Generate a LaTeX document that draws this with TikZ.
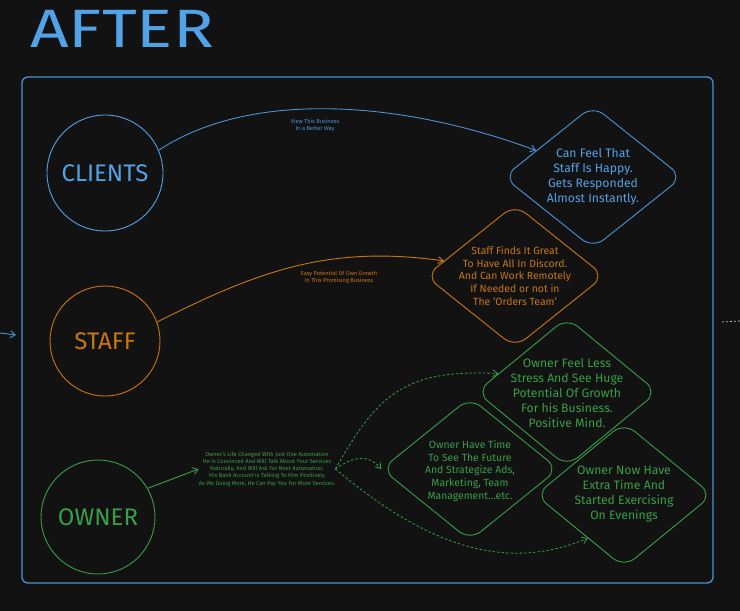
\documentclass[tikz,border=0pt]{standalone}
\usepackage{fontspec}
\setmainfont{Fira Sans}
\usetikzlibrary{shapes.geometric,arrows.meta}
\definecolor{bg}{RGB}{18,18,18}
\definecolor{cblue}{RGB}{74,146,214}
\definecolor{tblue}{RGB}{82,162,232}
\definecolor{corange}{RGB}{200,118,20}
\definecolor{cgreen}{RGB}{56,158,72}
\definecolor{cgray}{RGB}{190,190,190}
\begin{document}
\begin{tikzpicture}[x=1pt,y=-1pt,
  circ/.style={circle,draw=#1,text=#1,line width=0.9pt,inner sep=0pt,font=\fontsize{24}{24}\selectfont},
  diam/.style={diamond,draw=#1,line width=0.9pt,rounded corners=14pt,inner sep=0pt},
  bigtxt/.style={text=#1,align=center,inner sep=0pt,font=\fontsize{12.2}{15}\selectfont},
  midtxt/.style={text=#1,align=center,inner sep=0pt,font=\fontsize{10.4}{12.6}\selectfont},
  tinytxt/.style={text=#1,align=center,inner sep=0pt,font=\fontsize{5.7}{7.2}\selectfont},
  conn/.style={draw=#1,line width=0.9pt,-{Straight Barb[length=5pt,width=7pt]}},
  dconn/.style={draw=#1,line width=0.8pt,dash pattern=on 2.5pt off 2pt,-{Straight Barb[length=5pt,width=7pt]}}]
\useasboundingbox (0,0) rectangle (740,611);
\fill[bg] (0,0) rectangle (740,611);
% title
\node[anchor=base west,text=tblue,inner sep=0pt,font=\fontsize{54}{54}\selectfont] (title) at (30,47) {\scalebox{1.25}[1]{AFTER}};
% frame
\node[draw=cblue,line width=1.3pt,rounded corners=6pt,minimum width=691pt,minimum height=506pt,inner sep=0pt] (frame) at (367.5,330) {};
% edge connectors
\coordinate (la) at (0,333);
\coordinate (lb) at (16,335);
\draw[conn=cblue] (la) -- (lb);
\coordinate (ra) at (722,322);
\coordinate (rb) at (740,321);
\draw[draw=cgray,line width=0.8pt,dash pattern=on 2pt off 2pt] (ra) -- (rb);
% circles
\node[circ=tblue,minimum size=116pt] (clients) at (105,173) {CLIENTS};
\node[circ=corange,minimum size=110pt] (staff) at (105,341) {STAFF};
\node[circ=cgreen,minimum size=114pt] (owner) at (98,517) {OWNER};
% diamonds
\node[diam=cblue,minimum width=179pt,minimum height=143pt] (d1) at (593,177) {};
\node[bigtxt=tblue] (t1) at (d1) {Can Feel That\\Staff Is Happy.\\Gets Responded\\Almost Instantly.};
\node[diam=corange,minimum width=179pt,minimum height=143pt] (d2) at (515,276) {};
\node[midtxt=corange] (t2) at (d2) {Staff Finds It Great\\To Have All In Discord.\\And Can Work Remotely\\If Needed or not in\\The `Orders Team`};
\node[diam=cgreen,minimum width=181pt,minimum height=149pt] (g1) at (567,392) {};
\node[bigtxt=cgreen] (tg1) at (567,393) {Owner Feel Less\\Stress And See Huge\\Potential Of Growth\\For his Business.\\Positive Mind.};
\node[diam=cgreen,minimum width=177pt,minimum height=143pt] (g2) at (470,469) {};
\node[midtxt=cgreen] (tg2) at (470,471) {Owner Have Time\\To See The Future\\And Strategize Ads,\\Marketing, Team\\Management...etc.};
\node[diam=cgreen,minimum width=177pt,minimum height=145pt] (g3) at (624,495) {};
\node[bigtxt=cgreen] (tg3) at (624,494) {Owner Now Have\\Extra Time And\\Started Exercising\\On Evenings};
% labels
\node[tinytxt=cblue] (lab1) at (315,125) {View This Business\\In a Better Way};
\node[tinytxt=corange] (lab2) at (339,277) {Easy Potential Of Own Growth\\In This Promising Business};
\node[tinytxt=cgreen] (otxt) at (267,469) {Owner's Life Changed With Just One Automation\\He Is Convinced And Will Talk About Your Services\\Naturally, And Will Ask For Next Automation.\\His Bank Account Is Talking To Him Positively\\As We Going More, He Can Pay You For More Services.};
% connectors
\draw[conn=cblue] (clients.23) .. controls (250,90) and (400,100) .. (d1.155);
\draw[conn=corange] (staff.20) .. controls (260,270) and (330,245) .. (d2.168);
\draw[conn=cgreen] (owner.30) -- (otxt.west);
\draw[dconn=cgreen] (otxt.east) .. controls (375,400) and (400,368) .. (g1.165);
\draw[dconn=cgreen] (otxt.east) .. controls (355,455) and (370,455) .. (g2.west);
\draw[dconn=cgreen] (otxt.east) .. controls (420,540) and (500,575) .. (g3.230);
\end{tikzpicture}
\end{document}
